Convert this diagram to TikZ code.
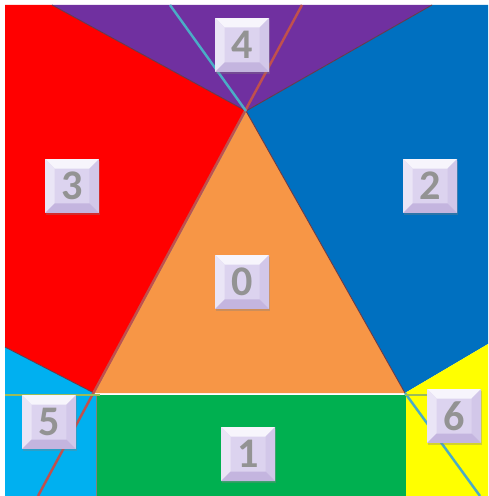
\documentclass[tikz,border=0pt]{standalone}
\usepackage{fontspec}
\usetikzlibrary{shadows}
\newfontfamily\tilefont{Carlito}

\definecolor{cellred}{HTML}{FF0000}
\definecolor{cellblue}{HTML}{0070C0}
\definecolor{cellpurple}{HTML}{7030A0}
\definecolor{cellorange}{HTML}{F79646}
\definecolor{cellgreen}{HTML}{00B050}
\definecolor{cellcyan}{HTML}{00B0F0}
\definecolor{cellyellow}{HTML}{FFFF00}
\definecolor{linebrown}{HTML}{C0504D}
\definecolor{lineaqua}{HTML}{4BACC6}
\definecolor{lineolive}{HTML}{9BBB59}
\definecolor{seamdark}{HTML}{6A3A48}
\definecolor{tilemid}{HTML}{DCD3EF}
\definecolor{tiletop}{HTML}{F7F5FC}
\definecolor{tileleft}{HTML}{EAE5F6}
\definecolor{tileright}{HTML}{D2C7E9}
\definecolor{tilebot}{HTML}{C4B5DF}
\definecolor{digitgray}{HTML}{939393}

\newcommand{\bev}{0.19cm}

\begin{document}
\begin{tikzpicture}[x=0.02cm, y=-0.02cm,
    seam/.style={line width=0.5pt, draw=seamdark},
    ray/.style={line width=1.4pt},
    tile/.style={minimum size=1.08cm, inner sep=0pt, fill=tilemid,
        drop shadow={opacity=0.35, shadow xshift=0.3pt, shadow yshift=-1pt},
        font=\tilefont\fontsize{24}{24}\selectfont\bfseries, text=digitgray,
        path picture={
            \fill[tiletop] (path picture bounding box.north west) -- (path picture bounding box.north east)
                -- ([shift={(-\bev,-\bev)}]path picture bounding box.north east)
                -- ([shift={(\bev,-\bev)}]path picture bounding box.north west) -- cycle;
            \fill[tileleft] (path picture bounding box.north west) -- (path picture bounding box.south west)
                -- ([shift={(\bev,\bev)}]path picture bounding box.south west)
                -- ([shift={(\bev,-\bev)}]path picture bounding box.north west) -- cycle;
            \fill[tileright] (path picture bounding box.north east) -- (path picture bounding box.south east)
                -- ([shift={(-\bev,\bev)}]path picture bounding box.south east)
                -- ([shift={(-\bev,-\bev)}]path picture bounding box.north east) -- cycle;
            \fill[tilebot] (path picture bounding box.south west) -- (path picture bounding box.south east)
                -- ([shift={(-\bev,\bev)}]path picture bounding box.south east)
                -- ([shift={(\bev,\bev)}]path picture bounding box.south west) -- cycle;
        }}]

    \fill[white] (0,0) rectangle (488,496);
    \useasboundingbox (0,0) rectangle (488,496);

    % corners of the middle triangle
    \coordinate (apex) at (246,111);
    \coordinate (bl) at (94,393);
    \coordinate (br) at (405,393);

    % cells
    \fill[cellred] (5,5) -- (52,5) -- (apex) -- (bl) -- (5,347) -- cycle;
    \fill[cellpurple] (52,5) -- (432,5) -- (apex) -- cycle;
    \fill[cellblue] (432,5) -- (488,5) -- (488,344) -- (br) -- (apex) -- cycle;
    \fill[cellcyan] (5,347) -- (bl) -- (96,395) -- (96,496) -- (5,496) -- cycle;
    \fill[cellgreen] (96,395) rectangle (406,496);
    \fill[cellyellow] (br) -- (488,344) -- (488,496) -- (406,496) -- (406,395) -- cycle;
    \fill[cellorange] (apex) -- (bl) -- (br) -- cycle;

    % seams between cells
    \draw[seam] (52,5) -- (apex) -- (432,5);
    \draw[seam] (5,347) -- (bl);
    \draw[seam] (apex) -- (br);
    \draw[seam, draw=gray] (96,395) -- (96,496);
    \draw[seam, draw=lineaqua] (apex) -- (bl);

    % long lines
    \draw[ray, linebrown] (302,5) -- (38,496);
    \draw[ray, lineaqua] (170,5) -- (apex);
    \draw[ray, lineaqua] (br) -- (480,496);
    \draw[ray, lineolive] (5,395) -- (100,395);
    \draw[ray, lineolive] (405,395) -- (430,395);

    % numbered tiles
    \node[tile] (t0) at (242,282) {0};
    \node[tile] (t1) at (248,454) {1};
    \node[tile] (t2) at (430,186) {2};
    \node[tile] (t3) at (72,186) {3};
    \node[tile] (t4) at (242,45) {4};
    \node[tile] (t5) at (49,422) {5};
    \node[tile] (t6) at (454,416) {6};
\end{tikzpicture}
\end{document}
